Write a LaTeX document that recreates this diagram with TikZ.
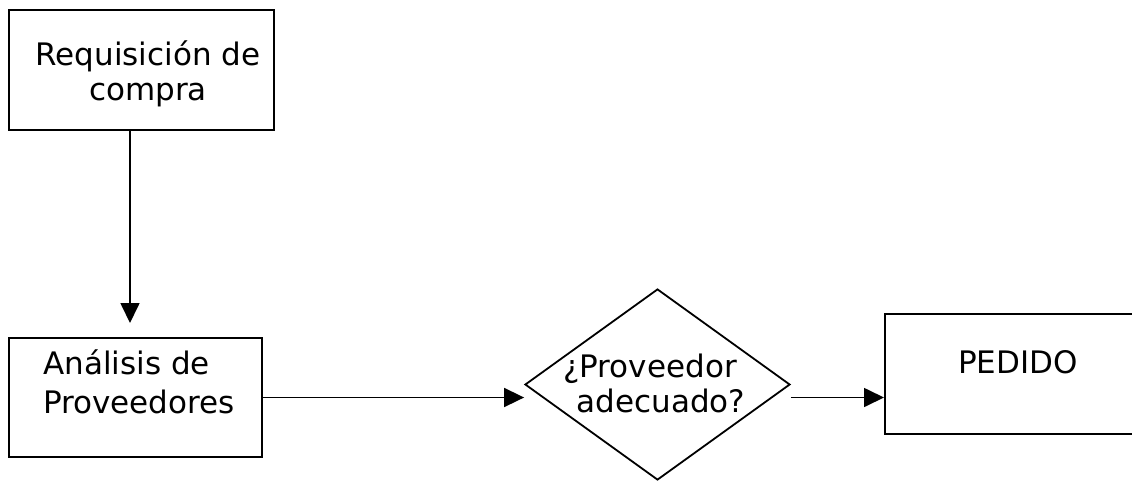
\documentclass[tikz,border=0pt]{standalone}
\usepackage{fontspec}
\setmainfont{DejaVu Sans}
\usetikzlibrary{arrows.meta,shapes.geometric}
\begin{document}
\begin{tikzpicture}[x=1pt,y=-1pt,
  box/.style={draw, line width=2pt, rectangle, inner sep=0pt},
  dia/.style={draw, line width=1.8pt, diamond, inner sep=0pt},
  lbl/.style={inner sep=0pt, font=\fontsize{31}{35}\selectfont, align=center},
  conn/.style={line width=1.7pt, -{Triangle[length=20pt,width=19pt]}}]
\useasboundingbox (0,0) rectangle (1132,485);
\clip (0,0) rectangle (1132,485);
\node[box, minimum width=265pt, minimum height=120pt] (b1) at (141.5,70) {};
\node[box, minimum width=253pt, minimum height=119pt] (b2) at (135.5,397.5) {};
\node[dia, minimum width=265pt, minimum height=191pt] (d) at (657.5,384.5) {};
\node[box, minimum width=260pt, minimum height=120pt] (b3) at (1015,374) {};
\node[lbl] (t1) at (148,74) {Requisición de\\compra};
\node[lbl, align=left, anchor=west, font=\fontsize{31}{39}\selectfont] (t2) at (43,382) {Análisis de\\Proveedores};
\node[lbl] (t3) at (650,383) {¿Proveedor\\\hspace*{22pt}adecuado?};
\node[lbl] (t4) at (1018,362) {PEDIDO};
\coordinate (s1) at ([xshift=-11.5pt]b1.south);
\coordinate (e1) at ([yshift=14pt]s1 |- b2.north);
\draw[conn] (s1) -- (e1);
\draw[conn] (b2.east) -- (b2.east -| d.west);
\coordinate (s3) at (d.east |- b2.east);
\draw[conn] (s3) -- (s3 -| b3.west);
\end{tikzpicture}
\end{document}
